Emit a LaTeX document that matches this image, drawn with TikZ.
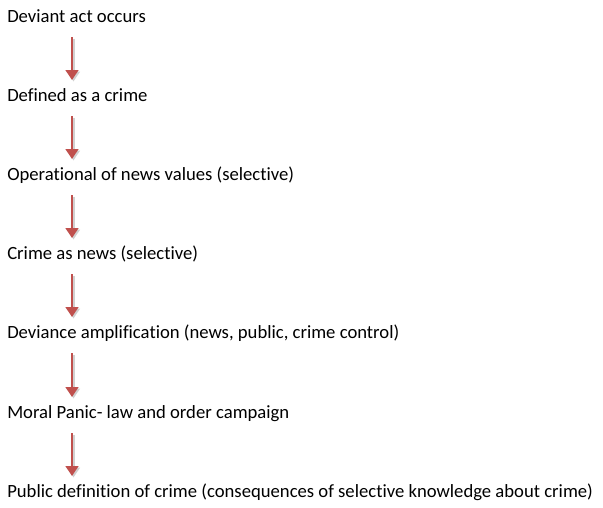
\documentclass[tikz,border=0pt]{standalone}
\usepackage{fontspec}
\setmainfont[Ligatures=NoCommon]{Carlito}
\usetikzlibrary{arrows.meta,calc}
\definecolor{arrred}{HTML}{C0504D}
\begin{document}
\begin{tikzpicture}[x=0.75pt,y=-0.75pt,
  lbl/.style={anchor=base west,inner sep=0pt,font=\fontsize{14}{16}\selectfont},
  arr/.style={draw=arrred,line width=2pt,-{Triangle[width=9.5pt,length=7.5pt]}},
  shad/.style={draw=black!18,line width=2pt,-{Triangle[width=9.5pt,length=7.5pt]}}]
\useasboundingbox (0,0) rectangle (603,507);
\node[lbl] (n1) at (7,22) {Deviant act occurs};
\node[lbl] (n2) at (7,101) {Defined as a crime};
\node[lbl] (n3) at (7,180) {Operational of news values (selective)};
\node[lbl] (n4) at (7,259) {Crime as news (selective)};
\node[lbl] (n5) at (7,338) {Deviance amplification (news, public, crime control)};
\node[lbl] (n6) at (7,418) {Moral Panic- law and order campaign};
\node[lbl] (n7) at (7,497) {Public definition of crime (consequences of selective knowledge about crime)};
\foreach \a/\b in {n1/n2,n2/n3,n3/n4,n4/n5,n5/n6,n6/n7}{
  \draw[shad] ($(\a.base west)+(66.5,16.5)$) -- ($(\b.base west)+(66.5,-19.5)$);
  \draw[arr] ($(\a.base west)+(65,15)$) -- ($(\b.base west)+(65,-21)$);
}
\end{tikzpicture}
\end{document}
